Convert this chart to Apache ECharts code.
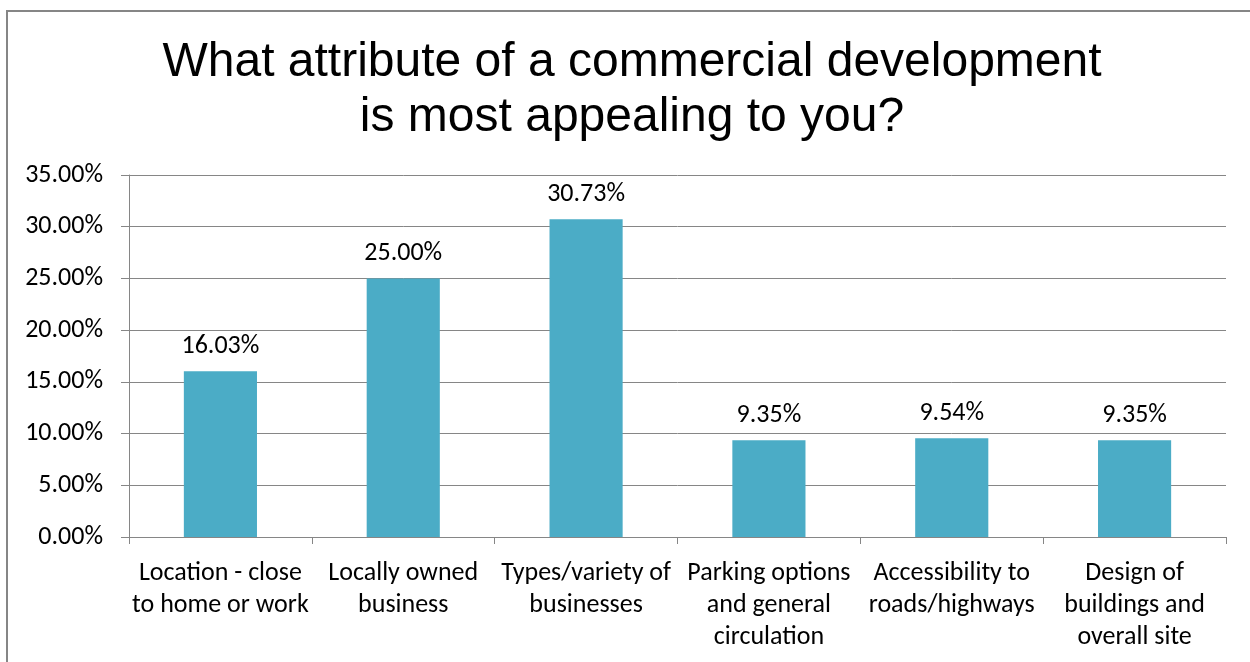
<!DOCTYPE html>
<html>
<head>
<meta charset="utf-8">
<script src="https://cdn.jsdelivr.net/npm/echarts@6/dist/echarts.min.js"></script>
<style>
  html, body { margin: 0; padding: 0; background: #fff; }
  #chart { width: 1250px; height: 662px; }
</style>
</head>
<body>
<div id="chart"></div>
<script>
// Survey answers: share of respondents per attribute
const titleLines = ['What attribute of a commercial development', 'is most appealing to you?'];
const categories = [
  'Location - close\nto home or work',
  'Locally owned\nbusiness',
  'Types/variety of\nbusinesses',
  'Parking options\nand general\ncirculation',
  'Accessibility to\nroads/highways',
  'Design of\nbuildings and\noverall site'
];
const shares = [16.03, 25.00, 30.73, 9.35, 9.54, 9.35];
const yTicks = { min: 0, max: 35, interval: 5 };

const axisFont = 'Carlito, Calibri, Lato, sans-serif';
const gray = '#868686';
const pct = v => v.toFixed(2) + '%';

const chart = echarts.init(document.getElementById('chart'));
chart.setOption({
  animation: false,
  backgroundColor: '#fff',
  title: {
    text: titleLines.join('\n'),
    left: 632,
    textAlign: 'center',
    top: 35,
    padding: 0,
    textStyle: {
      fontFamily: '"Liberation Sans", Arial, sans-serif',
      fontSize: 48,
      fontWeight: 'normal',
      color: '#000',
      lineHeight: 55
    }
  },
  graphic: [{
    type: 'rect',
    shape: { x: 7, y: 11, width: 1300, height: 700 },
    style: { fill: 'none', stroke: gray, lineWidth: 2 },
    silent: true
  }],
  grid: { left: 129, right: 24, top: 175, bottom: 125 },
  xAxis: {
    type: 'category',
    data: categories,
    axisLine: { lineStyle: { color: gray, width: 1 } },
    axisTick: { show: true, length: 7, lineStyle: { color: gray } },
    axisLabel: {
      interval: 0,
      margin: 20,
      color: '#000',
      fontFamily: axisFont,
      fontSize: 26,
      lineHeight: 32
    }
  },
  yAxis: {
    type: 'value',
    min: yTicks.min,
    max: yTicks.max,
    interval: yTicks.interval,
    axisLine: { show: true, lineStyle: { color: gray, width: 1 } },
    axisTick: { show: true, length: 8, lineStyle: { color: gray } },
    splitLine: { lineStyle: { color: gray, width: 1 } },
    axisLabel: {
      margin: 26,
      color: '#000',
      fontFamily: axisFont,
      fontSize: 26,
      formatter: pct
    }
  },
  series: [{
    type: 'bar',
    data: shares,
    barWidth: '40%',
    itemStyle: { color: '#4BACC6' },
    label: {
      show: true,
      position: 'top',
      distance: 12,
      color: '#000',
      fontFamily: axisFont,
      fontSize: 26,
      formatter: p => pct(p.value)
    }
  }]
});
</script>
</body>
</html>
